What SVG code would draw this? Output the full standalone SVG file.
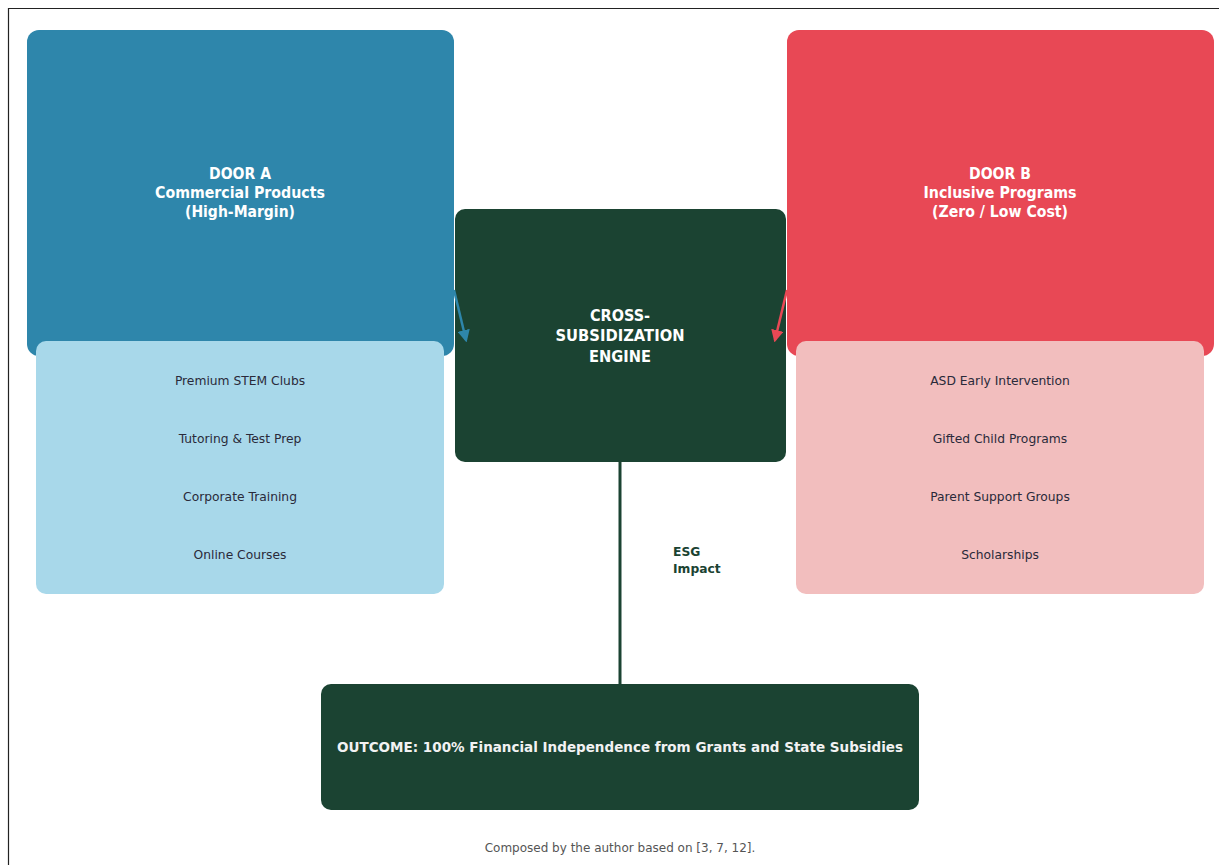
<svg xmlns="http://www.w3.org/2000/svg" width="1219" height="865" viewBox="0 0 1219 865">
<defs>
<style>
.t{font-family:"DejaVu Sans","Liberation Sans",sans-serif;text-anchor:middle}
.h{font-weight:bold;fill:#ffffff;font-size:15px}
.c{font-weight:bold;fill:#ffffff;font-size:16px}
.i{fill:#2a2a3a;font-size:12.3px}
.s{text-anchor:start;font-weight:bold;font-size:12.3px;fill:#1B4332}
</style>
<marker id="ab" viewBox="0 0 10 10" refX="8" refY="5" markerWidth="5" markerHeight="5" orient="auto"><path d="M0,0 L10,5 L0,10 z" fill="#2E86AB"/></marker>
<marker id="ar" viewBox="0 0 10 10" refX="8" refY="5" markerWidth="5" markerHeight="5" orient="auto"><path d="M0,0 L10,5 L0,10 z" fill="#E84855"/></marker>
</defs>
<rect width="1219" height="865" fill="#ffffff"/>
<path d="M8.5,865 V8.5 H1219" fill="none" stroke="#222" stroke-width="1.2"/>
<g id="doorA">
<rect x="27" y="30" width="427" height="326" rx="12" fill="#2E86AB"/>
<text class="t h" x="240" y="179" textLength="62" lengthAdjust="spacingAndGlyphs">DOOR A</text>
<text class="t h" x="240" y="198" textLength="170" lengthAdjust="spacingAndGlyphs">Commercial Products</text>
<text class="t h" x="240" y="217" textLength="110" lengthAdjust="spacingAndGlyphs">(High-Margin)</text>
</g>
<g id="doorB">
<rect x="787" y="30" width="427" height="326" rx="12" fill="#E84855"/>
<text class="t h" x="1000" y="179" textLength="62" lengthAdjust="spacingAndGlyphs">DOOR B</text>
<text class="t h" x="1000" y="198" textLength="153" lengthAdjust="spacingAndGlyphs">Inclusive Programs</text>
<text class="t h" x="1000" y="217" textLength="136" lengthAdjust="spacingAndGlyphs">(Zero / Low Cost)</text>
</g>
<g id="engine">
<rect x="455" y="209" width="331" height="253" rx="10" fill="#1B4332"/>
<text class="t c" x="620" y="321" textLength="60" lengthAdjust="spacingAndGlyphs">CROSS-</text>
<text class="t c" x="620" y="341" textLength="129" lengthAdjust="spacingAndGlyphs">SUBSIDIZATION</text>
<text class="t c" x="620" y="362" textLength="62" lengthAdjust="spacingAndGlyphs">ENGINE</text>
</g>
<g id="listA">
<rect x="36" y="341" width="408" height="253" rx="10" fill="#A8D8EA"/>
<text class="t i" x="240" y="385">Premium STEM Clubs</text>
<text class="t i" x="240" y="443">Tutoring &amp; Test Prep</text>
<text class="t i" x="240" y="501">Corporate Training</text>
<text class="t i" x="240" y="559">Online Courses</text>
</g>
<g id="listB">
<rect x="796" y="341" width="408" height="253" rx="10" fill="#F2BEBE"/>
<text class="t i" x="1000" y="385">ASD Early Intervention</text>
<text class="t i" x="1000" y="443">Gifted Child Programs</text>
<text class="t i" x="1000" y="501">Parent Support Groups</text>
<text class="t i" x="1000" y="559">Scholarships</text>
</g>
<g id="outcome">
<rect x="321" y="684" width="598" height="126" rx="10" fill="#1B4332"/>
<text class="t" x="620" y="752" font-weight="bold" font-size="14px" fill="#f2f2f2" textLength="566" lengthAdjust="spacingAndGlyphs">OUTCOME: 100% Financial Independence from Grants and State Subsidies</text>
</g>
<g id="connectors">
<line x1="454" y1="290" x2="466" y2="340" stroke="#2E86AB" stroke-width="2.5" marker-end="url(#ab)"/>
<line x1="787" y1="290" x2="775" y2="340" stroke="#E84855" stroke-width="2.5" marker-end="url(#ar)"/>
<line x1="620" y1="462" x2="620" y2="684" stroke="#1B4332" stroke-width="3"/>
<text class="t s" x="673" y="556">ESG</text>
<text class="t s" x="673" y="573">Impact</text>
</g>
<text class="t" x="620" y="852" font-size="12px" fill="#555555">Composed by the author based on [3, 7, 12].</text>
</svg>
